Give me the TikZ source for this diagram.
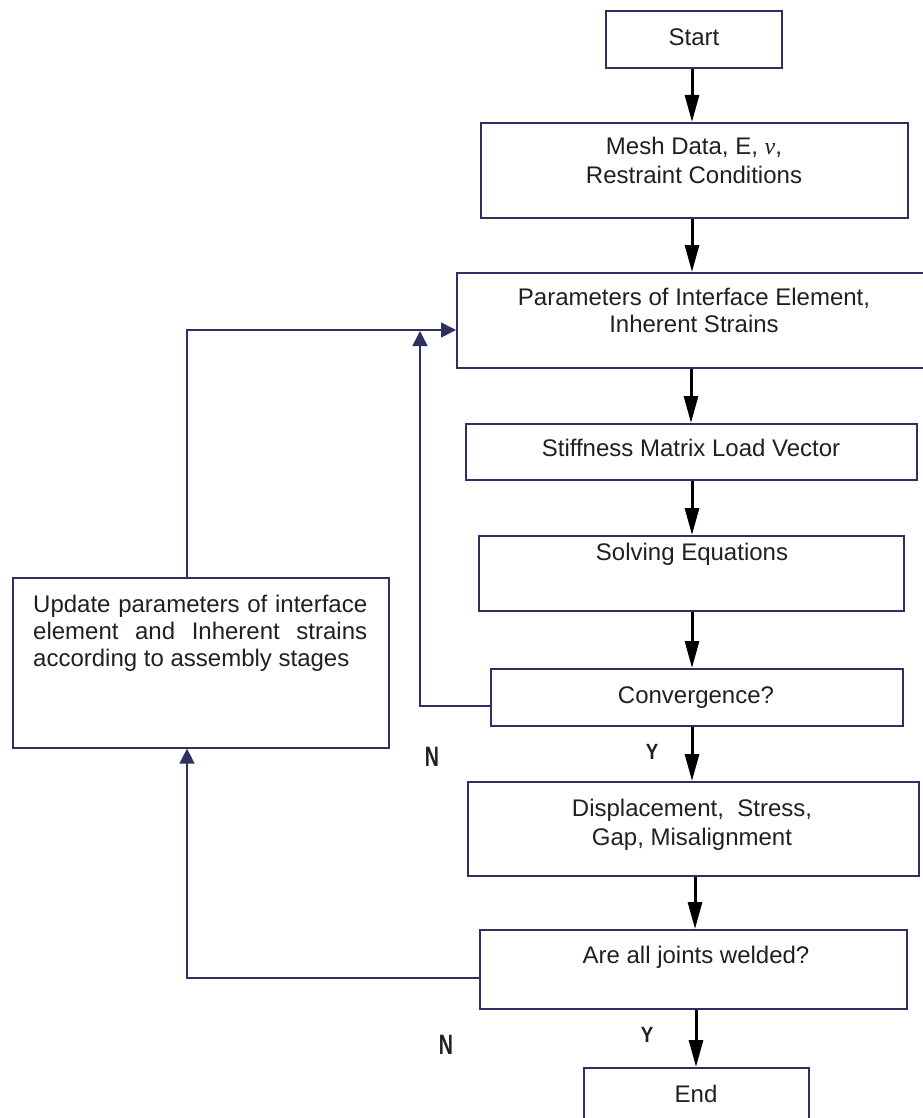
\documentclass[tikz,border=0pt]{standalone}
\usepackage{fontspec}
\setmainfont{Liberation Sans}
\newfontfamily\serifit{Liberation Serif}
\usepackage{graphicx}
\usetikzlibrary{arrows.meta,calc}
\definecolor{navy}{HTML}{2E3062}
\definecolor{ink}{HTML}{231F20}
\begin{document}
\begin{tikzpicture}[x=1pt,y=-1pt,
  box/.style={draw=navy,line width=1.6pt,inner sep=0pt,anchor=north west},
  txt/.style={anchor=base,text=ink,inner sep=0pt,font=\fontsize{24}{28}\selectfont},
  txtl/.style={anchor=base west,text=ink,inner sep=0pt,font=\fontsize{24}{28}\selectfont},
  darr/.style={line width=3pt,black,-{Triangle[length=27pt,width=14pt]}},
  fb/.style={draw=navy,line width=1.5pt,-{Triangle[length=15pt,width=15pt]}},
  nlab/.style={text=ink,inner sep=0pt,font=\fontsize{28}{28}\selectfont\bfseries},
  ylab/.style={text=ink,inner sep=0pt,font=\fontsize{22}{22}\selectfont\bfseries}]
\useasboundingbox (0,0) rectangle (922,1118);
\fill[white] (0,0) rectangle (922,1118);

% boxes
\node[box,minimum width=176pt,minimum height=57pt] (start) at (605,10) {};
\node[box,minimum width=427pt,minimum height=95pt] (mesh) at (480,122) {};
\node[box,minimum width=484pt,minimum height=95pt] (params) at (456,272) {};
\node[box,minimum width=451pt,minimum height=56pt] (stiff) at (465,423) {};
\node[box,minimum width=425pt,minimum height=75pt] (solve) at (478,535) {};
\node[box,minimum width=412pt,minimum height=57pt] (conv) at (490,668) {};
\node[box,minimum width=451pt,minimum height=94pt] (disp) at (467,781) {};
\node[box,minimum width=427pt,minimum height=79pt] (weld) at (479,929) {};
\node[box,minimum width=225pt,minimum height=70pt] (endb) at (583,1067) {};
\node[box,minimum width=376pt,minimum height=170pt] (upd) at (12,577) {};

% texts
\node[txt] (tstart) at (694,46) {Start};
\node[txt] (tmesh1) at (694,155) {Mesh Data, E, {\serifit\itshape ν},};
\node[txt] (tmesh2) at (694,183) {Restraint Conditions};
\node[txt] (tpar1) at (694,305) {Parameters of Interface Element,};
\node[txt] (tpar2) at (694,332) {Inherent Strains};
\node[txt] (tstiff) at (691,456) {Stiffness Matrix Load Vector};
\node[txt] (tsolve) at (692,560) {Solving Equations};
\node[txt] (tconv) at (696,703) {Convergence?};
\node[txt] (tdisp1) at (692,816) {Displacement,\ \ Stress,};
\node[txt] (tdisp2) at (692,845) {Gap, Misalignment};
\node[txt] (tweld) at (696,963) {Are all joints welded?};
\node[txt] (tend) at (696,1102) {End};
\node[txtl] (tu1) at (33,612) {\makebox[334pt][s]{Update parameters of interface}};
\node[txtl] (tu2) at (33,639) {\makebox[334pt][s]{element and Inherent strains}};
\node[txtl] (tu3) at (33,666) {according to assembly stages};

% Y / N labels
\node[nlab] (n1) at (432,757) {\scalebox{0.7}[1]{N}};
\node[ylab] (y1) at (652,752) {\scalebox{0.85}[1]{Y}};
\node[nlab] (n2) at (446,1045) {\scalebox{0.7}[1]{N}};
\node[ylab] (y2) at (647,1035) {\scalebox{0.85}[1]{Y}};

% helper coordinates
\coordinate (ax) at (692,0);
\coordinate (lx) at (187,0);
\coordinate (hy) at (0,330);
\coordinate (jn) at (420,331);
\coordinate (cy) at (0,706);
\coordinate (wy) at (0,978);

% main arrows
\draw[darr] (start.south -| ax) -- (mesh.north -| ax);
\draw[darr] (mesh.south -| ax) -- (params.north -| ax);
\draw[darr] ([xshift=-1pt]params.south -| ax) -- ([xshift=-1pt]stiff.north -| ax);
\draw[darr] (stiff.south -| ax) -- (solve.north -| ax);
\draw[darr] (solve.south -| ax) -- (conv.north -| ax);
\draw[darr] (conv.south -| ax) -- (disp.north -| ax);
\draw[darr] ([xshift=3pt]disp.south -| ax) -- ([xshift=3pt]weld.north -| ax);
\draw[darr] ([xshift=4pt]weld.south -| ax) -- ([xshift=4pt]endb.north -| ax);

% feedback
\draw[fb] (upd.north -| lx) |- (params.west |- hy);
\draw[fb] (conv.west |- cy) -| (jn);
\draw[fb] (weld.west |- wy) -| (upd.south -| lx);
\end{tikzpicture}
\end{document}
